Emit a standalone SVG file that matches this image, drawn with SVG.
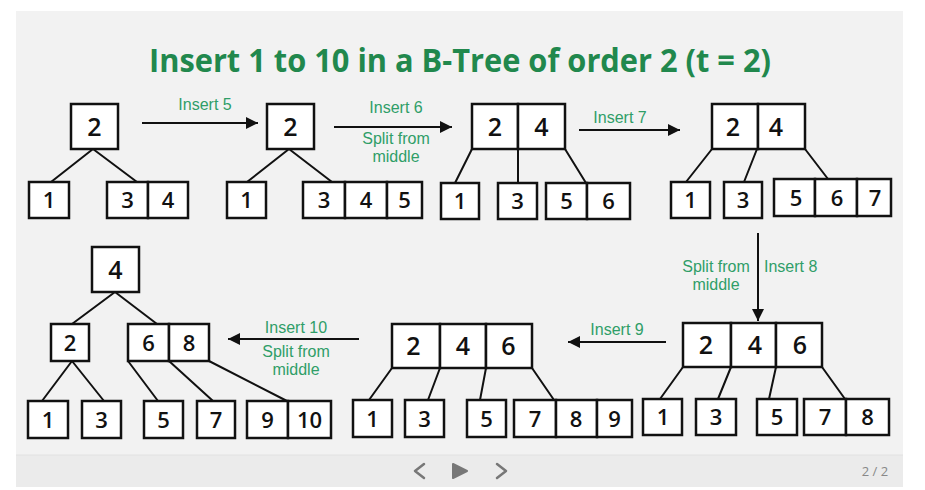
<svg xmlns="http://www.w3.org/2000/svg" width="925" height="490" viewBox="0 0 925 490">
<defs>
<style>
.c{fill:#fff;stroke:#111;stroke-width:2.5}
.d{font-family:"Open Sans","Noto Sans","Liberation Sans",sans-serif;font-weight:600;fill:#111;text-anchor:middle}
.L{font-size:25px}
.S{font-size:22px}
.e{stroke:#111;stroke-width:2;fill:none}
.g{font-family:"Liberation Sans",Arial,sans-serif;font-size:16px;fill:#2f9e68;text-anchor:middle}
</style>
<marker id="ah" viewBox="0 0 10 10" refX="10" refY="5" markerWidth="12" markerHeight="12" markerUnits="userSpaceOnUse" orient="auto">
<path d="M0,0 L10,5 L0,10 Z" fill="#111"/>
</marker>
</defs>
<rect width="925" height="490" fill="#fff"/>
<rect x="16" y="11" width="887" height="476" fill="#f2f2f2"/>
<rect x="16" y="455" width="887" height="32" fill="#ebebeb"/>
<line x1="16" y1="455" x2="903" y2="455" stroke="#e2e2e2" stroke-width="1"/>
<text x="460" y="72" font-family="Open Sans,Noto Sans,Liberation Sans,sans-serif" font-weight="700" font-size="33" fill="#21884d" text-anchor="middle" textLength="622" lengthAdjust="spacingAndGlyphs">Insert 1 to 10 in a B-Tree of order 2 (t = 2)</text>

<g id="connectors">
<path class="e" d="M93,149 L51,182 M93,149 L137,182"/>
<path class="e" d="M289,149 L247,182 M289,149 L332,182"/>
<path class="e" d="M472,149 L455,183 M518,149 L518,183 M565,149 L586,183"/>
<path class="e" d="M712,149 L686,182 M757,149 L744,182 M805,149 L828,179"/>
<path class="e" d="M683,367 L660,399 M731,367 L718,399 M776,367 L769,399 M822,367 L845,399"/>
<path class="e" d="M392,368 L369,400 M440,368 L428,400 M486,368 L480,400 M532,368 L554,400"/>
<path class="e" d="M115,292 L72,324 M115,292 L157,324 M72,361 L42,401 M72,361 L104,401 M128,361 L158,401 M169,361 L213,401 M209,361 L287,401"/>
<line class="e" x1="142" y1="123" x2="258" y2="123" marker-end="url(#ah)"/>
<line class="e" x1="334" y1="127" x2="452" y2="127" marker-end="url(#ah)"/>
<line class="e" x1="579" y1="130" x2="680" y2="130" marker-end="url(#ah)"/>
<line class="e" x1="758" y1="233" x2="758" y2="321" marker-end="url(#ah)"/>
<line class="e" x1="666" y1="342" x2="568" y2="342" marker-end="url(#ah)"/>
<line class="e" x1="359" y1="339" x2="228" y2="339" marker-end="url(#ah)"/>
<text class="g" x="205" y="110">Insert 5</text>
<text class="g" x="396" y="113">Insert 6</text>
<text class="g" x="396" y="144">Split from</text>
<text class="g" x="396" y="162">middle</text>
<text class="g" x="620" y="123">Insert 7</text>
<text class="g" x="716" y="272">Split from</text>
<text class="g" x="716" y="290">middle</text>
<text class="g" x="764" y="272" style="text-anchor:start">Insert 8</text>
<text class="g" x="617" y="335">Insert 9</text>
<text class="g" x="296" y="333">Insert 10</text>
<text class="g" x="296" y="357">Split from</text>
<text class="g" x="296" y="375">middle</text>
</g>

<!-- Tree 1 -->
<g id="t1-root"><rect class="c" x="71" y="104" width="47" height="45"/><text class="d L" x="94.5" y="135.5">2</text></g>
<g id="t1-n1"><rect class="c" x="29" y="182" width="40" height="36"/><text class="d S" x="49" y="208">1</text></g>
<g id="t1-n34"><rect class="c" x="107" y="182" width="41" height="36"/><rect class="c" x="148" y="182" width="40" height="36"/><text class="d S" x="127.5" y="208">3</text><text class="d S" x="168" y="208">4</text></g>

<!-- Tree 2 -->
<g id="t2-root"><rect class="c" x="267" y="104" width="47" height="45"/><text class="d L" x="290.5" y="135.5">2</text></g>
<g id="t2-n1"><rect class="c" x="227" y="182" width="39" height="36"/><text class="d S" x="246.5" y="208">1</text></g>
<g id="t2-n345"><rect class="c" x="303" y="182" width="42" height="36"/><rect class="c" x="345" y="182" width="42" height="36"/><rect class="c" x="387" y="182" width="35" height="36"/><text class="d S" x="324" y="208">3</text><text class="d S" x="366" y="208">4</text><text class="d S" x="404.5" y="208">5</text></g>

<!-- Tree 3 -->
<g id="t3-root"><rect class="c" x="472" y="104" width="46" height="45"/><rect class="c" x="518" y="104" width="47" height="45"/><text class="d L" x="495" y="135.5">2</text><text class="d L" x="541.5" y="135.5">4</text></g>
<g id="t3-n1"><rect class="c" x="441" y="183" width="38" height="36"/><text class="d S" x="460" y="209">1</text></g>
<g id="t3-n3"><rect class="c" x="498" y="183" width="39" height="36"/><text class="d S" x="517.5" y="209">3</text></g>
<g id="t3-n56"><rect class="c" x="546" y="183" width="41" height="36"/><rect class="c" x="587" y="183" width="43" height="36"/><text class="d S" x="566.5" y="209">5</text><text class="d S" x="608.5" y="209">6</text></g>

<!-- Tree 4 -->
<g id="t4-root"><rect class="c" x="712" y="104" width="46" height="45"/><rect class="c" x="758" y="104" width="47" height="45"/><text class="d L" x="733" y="135.5">2</text><text class="d L" x="776" y="135.5">4</text></g>
<g id="t4-n1"><rect class="c" x="671" y="182" width="39" height="36"/><text class="d S" x="690.5" y="208">1</text></g>
<g id="t4-n3"><rect class="c" x="724" y="182" width="38" height="36"/><text class="d S" x="743" y="208">3</text></g>
<g id="t4-n567"><rect class="c" x="774" y="179" width="41" height="37"/><rect class="c" x="815" y="179" width="42" height="37"/><rect class="c" x="857" y="179" width="34" height="37"/><text class="d S" x="796" y="205.5">5</text><text class="d S" x="837" y="205.5">6</text><text class="d S" x="875" y="205.5">7</text></g>

<!-- Tree 5 -->
<g id="t5-root"><rect class="c" x="683" y="323" width="48" height="44"/><rect class="c" x="731" y="323" width="45" height="44"/><rect class="c" x="776" y="323" width="46" height="44"/><text class="d L" x="706" y="354">2</text><text class="d L" x="755" y="354">4</text><text class="d L" x="800" y="354">6</text></g>
<g id="t5-n1"><rect class="c" x="643" y="399" width="39" height="36"/><text class="d S" x="663" y="425">1</text></g>
<g id="t5-n3"><rect class="c" x="696" y="399" width="40" height="36"/><text class="d S" x="716" y="425">3</text></g>
<g id="t5-n5"><rect class="c" x="757" y="399" width="40" height="36"/><text class="d S" x="777" y="425">5</text></g>
<g id="t5-n78"><rect class="c" x="804" y="399" width="42" height="36"/><rect class="c" x="846" y="399" width="43" height="36"/><text class="d S" x="825" y="425">7</text><text class="d S" x="867.5" y="425">8</text></g>

<!-- Tree 6 -->
<g id="t6-root"><rect class="c" x="392" y="324" width="48" height="44"/><rect class="c" x="440" y="324" width="46" height="44"/><rect class="c" x="486" y="324" width="46" height="44"/><text class="d L" x="413.5" y="355">2</text><text class="d L" x="463" y="355">4</text><text class="d L" x="508.5" y="355">6</text></g>
<g id="t6-n1"><rect class="c" x="353" y="400" width="39" height="37"/><text class="d S" x="372.5" y="426.5">1</text></g>
<g id="t6-n3"><rect class="c" x="405" y="400" width="39" height="37"/><text class="d S" x="424.5" y="426.5">3</text></g>
<g id="t6-n5"><rect class="c" x="467" y="400" width="39" height="37"/><text class="d S" x="486.5" y="426.5">5</text></g>
<g id="t6-n789"><rect class="c" x="514" y="400" width="42" height="37"/><rect class="c" x="556" y="400" width="41" height="37"/><rect class="c" x="597" y="400" width="35" height="37"/><text class="d S" x="535" y="426.5">7</text><text class="d S" x="576" y="426.5">8</text><text class="d S" x="614.5" y="426.5">9</text></g>

<!-- Tree 7 -->
<g id="t7-root"><rect class="c" x="92" y="247" width="47" height="45"/><text class="d L" x="115.5" y="278.5">4</text></g>
<g id="t7-n2"><rect class="c" x="51" y="324" width="38" height="37"/><text class="d S" x="70" y="350.5">2</text></g>
<g id="t7-n68"><rect class="c" x="128" y="324" width="41" height="37"/><rect class="c" x="169" y="324" width="40" height="37"/><text class="d S" x="148.5" y="350.5">6</text><text class="d S" x="189" y="350.5">8</text></g>
<g id="t7-n1"><rect class="c" x="28" y="401" width="40" height="37"/><text class="d S" x="48" y="427.5">1</text></g>
<g id="t7-n3"><rect class="c" x="82" y="401" width="39" height="37"/><text class="d S" x="101.5" y="427.5">3</text></g>
<g id="t7-n5"><rect class="c" x="144" y="401" width="39" height="37"/><text class="d S" x="163.5" y="427.5">5</text></g>
<g id="t7-n7"><rect class="c" x="197" y="401" width="38" height="37"/><text class="d S" x="216" y="427.5">7</text></g>
<g id="t7-n910"><rect class="c" x="247" y="401" width="41" height="37"/><rect class="c" x="288" y="401" width="43" height="37"/><text class="d S" x="267.5" y="427.5">9</text><text class="d S" x="309.5" y="427.5">10</text></g>

<!-- bottom bar controls -->
<g id="controls" fill="none" stroke="#777" stroke-width="2.5" stroke-linecap="round" stroke-linejoin="round">
<path d="M424,464 L415,471 L424,478"/>
<path d="M497,464 L506,471 L497,478"/>
<path d="M453,464 L467,471 L453,478 Z" fill="#777" stroke-width="2"/>
</g>
<text x="875" y="476" font-family="Open Sans,Noto Sans,Liberation Sans,sans-serif" font-size="13" fill="#888" text-anchor="middle">2 / 2</text>
</svg>
